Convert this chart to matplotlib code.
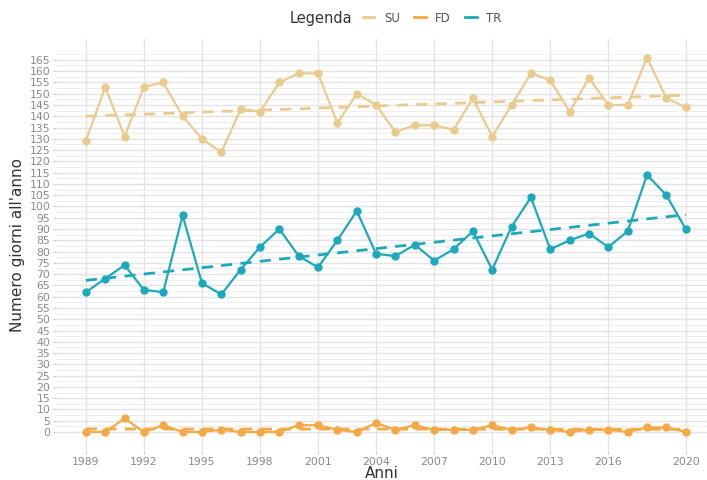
import numpy as np
import matplotlib
matplotlib.use("Agg")
import matplotlib.pyplot as plt
from matplotlib.lines import Line2D

anni = list(range(1989, 2021))

# giorni estivi (SU), giorni di gelo (FD), notti tropicali (TR)
su = [129, 153, 131, 153, 155, 140, 130, 124, 143, 142, 155, 159, 159, 137, 150, 145,
      133, 136, 136, 134, 148, 131, 145, 159, 156, 142, 157, 145, 145, 166, 148, 144]
fd = [0, 0, 6, 0, 3, 0, 0, 1, 0, 0, 0, 3, 3, 1, 0, 4,
      1, 3, 1, 1, 1, 3, 1, 2, 1, 0, 1, 1, 0, 2, 2, 0]
tr = [62, 68, 74, 63, 62, 96, 66, 61, 72, 82, 90, 78, 73, 85, 98, 79,
      78, 83, 76, 81, 89, 72, 91, 104, 81, 85, 88, 82, 89, 114, 105, 90]

serie = ["SU", "FD", "TR"]
colori = {"SU": "#EACB8E", "FD": "#F4A945", "TR": "#1CA9BC"}
dati = {"SU": su, "FD": fd, "TR": tr}

x_breaks = [1989, 1992, 1995, 1998, 2001, 2004, 2007, 2010, 2013, 2016, 2020]
y_breaks = list(range(0, 170, 5))

fig = plt.figure(figsize=(7.07, 4.80), dpi=100)
ax = fig.add_axes([0.079, 0.061, 0.921, 0.858])

x = np.array(anni)
for nome in serie:
    y = np.array(dati[nome])
    c = colori[nome]
    ax.plot(x, y, color=c, lw=1.6, marker="o", ms=5, zorder=3)
    # retta di tendenza lineare
    m, q = np.polyfit(x, y, 1)
    ax.plot(x, m * x + q, color=c, lw=2, ls=(0, (4, 3)), zorder=2)

ax.set_xlim(1987.45, 2021.1)
ax.set_ylim(-8.3, 174.3)
ax.set_xticks(x_breaks)
ax.set_yticks(y_breaks)
ax.set_yticks(np.arange(2.5, 170, 5), minor=True)
ax.grid(which="major", color="#E3E3E3", lw=1.0)
ax.grid(which="minor", axis="y", color="#EEEEEE", lw=0.7)
ax.set_axisbelow(True)
for s in ax.spines.values():
    s.set_visible(False)
ax.tick_params(axis="both", which="major", colors="#CCCCCC", length=2.5, width=0.8,
               labelcolor="#8A8A8A", labelsize=7.8)
ax.tick_params(axis="y", which="minor", length=0)
ax.tick_params(axis="y", pad=1.5)
ax.tick_params(axis="x", pad=2)

ax.set_xlabel("Anni", fontsize=11, color="#333333", labelpad=-1)
ax.set_ylabel("Numero giorni all'anno", fontsize=11, color="#333333", labelpad=3)

# legenda orizzontale in alto
fig.text(290 / 707, 1 - 18 / 480, "Legenda", fontsize=10.5, color="#333333",
         ha="left", va="center")
handles = [Line2D([], [], color=colori[n], lw=2) for n in serie]
fig.legend(handles, serie, loc="center left", bbox_to_anchor=(352 / 707, 1 - 18 / 480),
           ncol=3, frameon=False, handlelength=1.0, handletextpad=0.8,
           columnspacing=1.2, fontsize=8.5, labelcolor="#555555")

fig.savefig("out.png", dpi=100)
